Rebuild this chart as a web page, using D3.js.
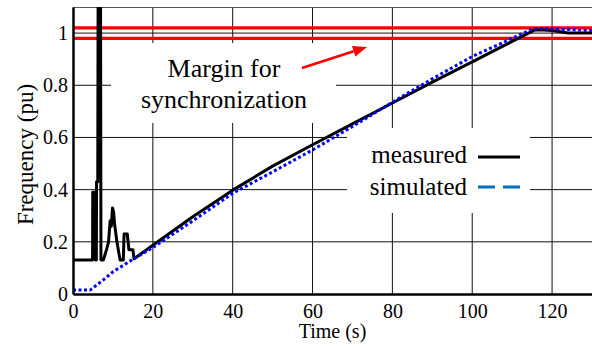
<!DOCTYPE html>
<html>
<head>
<meta charset="utf-8">
<script src="https://cdn.jsdelivr.net/npm/d3@7"></script>
<style>
  body { margin: 0; background: #fff; }
  svg { display: block; }
  text { font-family: "Liberation Serif", "Times New Roman", serif; }
</style>
</head>
<body>
<div id="chart"></div>
<script>
// Measured frequency (pu) vs time (s)
const measuredT = [0, 4.9, 4.95, 5.5, 5.6, 5.85, 5.9, 6.2, 6.35, 6.85, 7.0, 7.6, 8.4, 8.9, 9.3, 9.6, 9.9, 10.2, 10.4, 11.0, 11.8, 12.6, 12.8, 13.6, 14.0, 15.0, 15.3,
  20, 30, 40, 50, 60, 70, 80, 90, 100, 110, 115.8, 118, 120, 122, 124, 130];
const measuredF = [0.13, 0.13, 0.39, 0.39, 0.13, 0.13, 0.43, 0.43, 1.6, 1.6, 0.13, 0.13, 0.17, 0.2, 0.28, 0.26, 0.33, 0.31, 0.27, 0.2, 0.13, 0.13, 0.23, 0.23, 0.17, 0.17, 0.135,
  0.187, 0.296, 0.398, 0.49, 0.572, 0.652, 0.732, 0.812, 0.89, 0.968, 1.013, 1.012, 1.01, 1.005, 1.0, 1.0];

// Simulated frequency
const simulatedT = [0, 4.3, 5.9, 7.6, 10.1, 12.6, 15.1, 20, 30, 40, 50, 60, 70, 80, 90, 100, 110, 115.3, 120, 125, 130];
const simulatedF = [0.015, 0.015, 0.034, 0.054, 0.086, 0.11, 0.134, 0.178, 0.28, 0.386, 0.468, 0.552, 0.642, 0.735, 0.825, 0.91, 0.98, 1.017, 1.016, 1.013, 1.01];

// Synchronization margin
const marginLevels = [0.98, 1.02];

const xTicks = [0, 20, 40, 60, 80, 100, 120];
const yTicks = [0, 0.2, 0.4, 0.6, 0.8, 1];

const margin = { top: 7, right: 0, bottom: 52, left: 73 },
    width = 592 - margin.left - margin.right,
    height = 346 - margin.top - margin.bottom;

const svg = d3.select("#chart")
  .append("svg")
    .attr("width", width + margin.left + margin.right)
    .attr("height", height + margin.top + margin.bottom)
  .append("g")
    .attr("transform", `translate(${margin.left},${margin.top})`);

const x = d3.scaleLinear().domain([0, 130]).range([0, width]);
const y = d3.scaleLinear().domain([0, 1.1]).range([height, 0]);

svg.append("defs").append("clipPath").attr("id", "clip")
  .append("rect").attr("width", width).attr("height", height);

// Grid
svg.append("g")
  .selectAll("line")
  .data(xTicks.filter(d => d > 0))
  .join("line")
    .attr("x1", d => x(d)).attr("x2", d => x(d))
    .attr("y1", 0).attr("y2", height)
    .attr("stroke", "#111").attr("stroke-width", 1);
svg.append("g")
  .selectAll("line")
  .data(yTicks.filter(d => d > 0))
  .join("line")
    .attr("x1", 0).attr("x2", width)
    .attr("y1", d => y(d)).attr("y2", d => y(d))
    .attr("stroke", "#111").attr("stroke-width", 1);

// top border
svg.append("line")
  .attr("x1", 0).attr("x2", width).attr("y1", 0.5).attr("y2", 0.5)
  .attr("stroke", "#555").attr("stroke-width", 1);

// Margin lines
svg.append("g")
  .selectAll("line")
  .data(marginLevels)
  .join("line")
    .attr("x1", 0).attr("x2", width)
    .attr("y1", d => y(d)).attr("y2", d => y(d))
    .attr("stroke", "#ff0000").attr("stroke-width", 3.2);

// white boxes behind annotation and legend
svg.append("rect")
  .attr("x", 38).attr("y", 36).attr("width", 225).attr("height", 80)
  .attr("fill", "#fff");
svg.append("rect")
  .attr("x", 274).attr("y", 121).attr("width", 183).attr("height", 85)
  .attr("fill", "#fff");

// Lines
const toPts = (ts, fs) => ts.map((t, i) => [t, fs[i]]);
const line = d3.line().x(d => x(d[0])).y(d => y(d[1]));

const plot = svg.append("g").attr("clip-path", "url(#clip)");

plot.append("path")
  .datum(toPts(measuredT, measuredF))
  .attr("fill", "none")
  .attr("stroke", "#000")
  .attr("stroke-width", 3)
  .attr("stroke-linejoin", "round")
  .attr("d", line);

plot.append("path")
  .datum(toPts(simulatedT, simulatedF))
  .attr("fill", "none")
  .attr("stroke", "#0000ff")
  .attr("stroke-width", 3)
  .attr("stroke-dasharray", "3,2.5")
  .attr("d", line);

// Axes
const xAxis = svg.append("g")
  .attr("transform", `translate(0,${height})`)
  .call(d3.axisBottom(x).tickValues(xTicks).tickSize(0).tickPadding(10).tickFormat(d3.format("d")));
xAxis.select(".domain").attr("stroke", "#000").attr("stroke-width", 2.5);
xAxis.selectAll("text").attr("fill", "#000").style("font-size", "20px");

const yAxis = svg.append("g")
  .call(d3.axisLeft(y).tickValues(yTicks).tickSize(0).tickPadding(5).tickFormat(d => d3.format("~g")(d)));
yAxis.select(".domain").attr("stroke", "#000").attr("stroke-width", 2.5);
yAxis.selectAll("text").attr("fill", "#000").style("font-size", "20px");

// Axis titles
svg.append("text")
  .attr("x", width / 2).attr("y", height + 44)
  .attr("text-anchor", "middle").style("font-size", "20px")
  .text("Time (s)");
svg.append("text")
  .attr("transform", `translate(${33 - margin.left},${height / 2 + 4}) rotate(-90)`)
  .attr("text-anchor", "middle").style("font-size", "23px")
  .text("Frequency (pu)");

// Annotation
svg.append("text")
  .attr("x", 151).attr("y", 70)
  .attr("text-anchor", "middle").style("font-size", "26px")
  .text("Margin for");
svg.append("text")
  .attr("x", 151).attr("y", 101)
  .attr("text-anchor", "middle").style("font-size", "26px")
  .text("synchronization");

// arrow
const a0 = [229, 61], a1 = [294, 40];
const ang = Math.atan2(a1[1] - a0[1], a1[0] - a0[0]);
const hl = 14, hw = 5.5;
const base = [a1[0] - hl * Math.cos(ang), a1[1] - hl * Math.sin(ang)];
svg.append("line")
  .attr("x1", a0[0]).attr("y1", a0[1])
  .attr("x2", base[0]).attr("y2", base[1])
  .attr("stroke", "#ff0000").attr("stroke-width", 2.5);
svg.append("path")
  .attr("d", d3.line()([
    a1,
    [base[0] + hw * Math.sin(ang), base[1] - hw * Math.cos(ang)],
    [base[0] - hw * Math.sin(ang), base[1] + hw * Math.cos(ang)]
  ]) + "Z")
  .attr("fill", "#ff0000");

// Legend
const legend = svg.append("g").style("font-size", "25px");
legend.append("text").attr("x", 394).attr("y", 156).attr("text-anchor", "end").text("measured");
legend.append("line").attr("x1", 405).attr("x2", 447).attr("y1", 150).attr("y2", 150)
  .attr("stroke", "#000").attr("stroke-width", 3.2);
legend.append("text").attr("x", 394).attr("y", 188).attr("text-anchor", "end").text("simulated");
legend.append("line").attr("x1", 405).attr("x2", 447).attr("y1", 180).attr("y2", 180)
  .attr("stroke", "#0070c0").attr("stroke-width", 3.2).attr("stroke-dasharray", "17,8");
</script>
</body>
</html>
